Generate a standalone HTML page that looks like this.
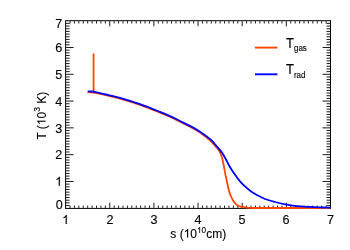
<!DOCTYPE html>
<html><head><meta charset="utf-8"><style>
html,body{margin:0;padding:0;background:#fff;}
svg{display:block}
text{font-family:"Liberation Sans",sans-serif;fill:#000;stroke:#000;stroke-width:0.12px}
.h1{fill:none;stroke:none}
.g1{fill:#000;stroke:#000}
</style></head><body>
<svg width="350" height="250" viewBox="0 0 350 250">
<rect width="350" height="250" fill="#fff"/>
<rect x="65.6" y="20.7" width="264.90" height="187.70" fill="none" stroke="#000" stroke-width="1"/>
<path d="M70.02 207.90 v-2.30 M70.02 21.20 v2.30 M74.43 207.90 v-2.30 M74.43 21.20 v2.30 M78.84 207.90 v-2.30 M78.84 21.20 v2.30 M83.26 207.90 v-2.30 M83.26 21.20 v2.30 M87.67 207.90 v-2.30 M87.67 21.20 v2.30 M92.09 207.90 v-2.30 M92.09 21.20 v2.30 M96.50 207.90 v-2.30 M96.50 21.20 v2.30 M100.92 207.90 v-2.30 M100.92 21.20 v2.30 M105.33 207.90 v-2.30 M105.33 21.20 v2.30 M109.75 207.90 v-5.10 M109.75 21.20 v5.10 M114.16 207.90 v-2.30 M114.16 21.20 v2.30 M118.58 207.90 v-2.30 M118.58 21.20 v2.30 M122.99 207.90 v-2.30 M122.99 21.20 v2.30 M127.41 207.90 v-2.30 M127.41 21.20 v2.30 M131.82 207.90 v-2.30 M131.82 21.20 v2.30 M136.24 207.90 v-2.30 M136.24 21.20 v2.30 M140.65 207.90 v-2.30 M140.65 21.20 v2.30 M145.07 207.90 v-2.30 M145.07 21.20 v2.30 M149.49 207.90 v-2.30 M149.49 21.20 v2.30 M153.90 207.90 v-5.10 M153.90 21.20 v5.10 M158.31 207.90 v-2.30 M158.31 21.20 v2.30 M162.73 207.90 v-2.30 M162.73 21.20 v2.30 M167.14 207.90 v-2.30 M167.14 21.20 v2.30 M171.56 207.90 v-2.30 M171.56 21.20 v2.30 M175.97 207.90 v-2.30 M175.97 21.20 v2.30 M180.39 207.90 v-2.30 M180.39 21.20 v2.30 M184.81 207.90 v-2.30 M184.81 21.20 v2.30 M189.22 207.90 v-2.30 M189.22 21.20 v2.30 M193.63 207.90 v-2.30 M193.63 21.20 v2.30 M198.05 207.90 v-5.10 M198.05 21.20 v5.10 M202.46 207.90 v-2.30 M202.46 21.20 v2.30 M206.88 207.90 v-2.30 M206.88 21.20 v2.30 M211.30 207.90 v-2.30 M211.30 21.20 v2.30 M215.71 207.90 v-2.30 M215.71 21.20 v2.30 M220.12 207.90 v-2.30 M220.12 21.20 v2.30 M224.54 207.90 v-2.30 M224.54 21.20 v2.30 M228.95 207.90 v-2.30 M228.95 21.20 v2.30 M233.37 207.90 v-2.30 M233.37 21.20 v2.30 M237.78 207.90 v-2.30 M237.78 21.20 v2.30 M242.20 207.90 v-5.10 M242.20 21.20 v5.10 M246.62 207.90 v-2.30 M246.62 21.20 v2.30 M251.03 207.90 v-2.30 M251.03 21.20 v2.30 M255.44 207.90 v-2.30 M255.44 21.20 v2.30 M259.86 207.90 v-2.30 M259.86 21.20 v2.30 M264.27 207.90 v-2.30 M264.27 21.20 v2.30 M268.69 207.90 v-2.30 M268.69 21.20 v2.30 M273.11 207.90 v-2.30 M273.11 21.20 v2.30 M277.52 207.90 v-2.30 M277.52 21.20 v2.30 M281.94 207.90 v-2.30 M281.94 21.20 v2.30 M286.35 207.90 v-5.10 M286.35 21.20 v5.10 M290.76 207.90 v-2.30 M290.76 21.20 v2.30 M295.18 207.90 v-2.30 M295.18 21.20 v2.30 M299.60 207.90 v-2.30 M299.60 21.20 v2.30 M304.01 207.90 v-2.30 M304.01 21.20 v2.30 M308.42 207.90 v-2.30 M308.42 21.20 v2.30 M312.84 207.90 v-2.30 M312.84 21.20 v2.30 M317.25 207.90 v-2.30 M317.25 21.20 v2.30 M321.67 207.90 v-2.30 M321.67 21.20 v2.30 M326.08 207.90 v-2.30 M326.08 21.20 v2.30 M66.10 205.57 h3.50 M330.00 205.57 h-3.50 M66.10 202.89 h3.50 M330.00 202.89 h-3.50 M66.10 200.21 h3.50 M330.00 200.21 h-3.50 M66.10 197.53 h3.50 M330.00 197.53 h-3.50 M66.10 194.85 h3.50 M330.00 194.85 h-3.50 M66.10 192.17 h3.50 M330.00 192.17 h-3.50 M66.10 189.50 h3.50 M330.00 189.50 h-3.50 M66.10 186.82 h3.50 M330.00 186.82 h-3.50 M66.10 184.14 h3.50 M330.00 184.14 h-3.50 M66.10 181.46 h7.50 M330.00 181.46 h-7.50 M66.10 178.78 h3.50 M330.00 178.78 h-3.50 M66.10 176.10 h3.50 M330.00 176.10 h-3.50 M66.10 173.42 h3.50 M330.00 173.42 h-3.50 M66.10 170.74 h3.50 M330.00 170.74 h-3.50 M66.10 168.06 h3.50 M330.00 168.06 h-3.50 M66.10 165.38 h3.50 M330.00 165.38 h-3.50 M66.10 162.70 h3.50 M330.00 162.70 h-3.50 M66.10 160.02 h3.50 M330.00 160.02 h-3.50 M66.10 157.34 h3.50 M330.00 157.34 h-3.50 M66.10 154.66 h7.50 M330.00 154.66 h-7.50 M66.10 151.99 h3.50 M330.00 151.99 h-3.50 M66.10 149.31 h3.50 M330.00 149.31 h-3.50 M66.10 146.63 h3.50 M330.00 146.63 h-3.50 M66.10 143.95 h3.50 M330.00 143.95 h-3.50 M66.10 141.27 h3.50 M330.00 141.27 h-3.50 M66.10 138.59 h3.50 M330.00 138.59 h-3.50 M66.10 135.91 h3.50 M330.00 135.91 h-3.50 M66.10 133.23 h3.50 M330.00 133.23 h-3.50 M66.10 130.55 h3.50 M330.00 130.55 h-3.50 M66.10 127.87 h7.50 M330.00 127.87 h-7.50 M66.10 125.19 h3.50 M330.00 125.19 h-3.50 M66.10 122.51 h3.50 M330.00 122.51 h-3.50 M66.10 119.83 h3.50 M330.00 119.83 h-3.50 M66.10 117.15 h3.50 M330.00 117.15 h-3.50 M66.10 114.47 h3.50 M330.00 114.47 h-3.50 M66.10 111.80 h3.50 M330.00 111.80 h-3.50 M66.10 109.12 h3.50 M330.00 109.12 h-3.50 M66.10 106.44 h3.50 M330.00 106.44 h-3.50 M66.10 103.76 h3.50 M330.00 103.76 h-3.50 M66.10 101.08 h7.50 M330.00 101.08 h-7.50 M66.10 98.40 h3.50 M330.00 98.40 h-3.50 M66.10 95.72 h3.50 M330.00 95.72 h-3.50 M66.10 93.04 h3.50 M330.00 93.04 h-3.50 M66.10 90.36 h3.50 M330.00 90.36 h-3.50 M66.10 87.68 h3.50 M330.00 87.68 h-3.50 M66.10 85.00 h3.50 M330.00 85.00 h-3.50 M66.10 82.32 h3.50 M330.00 82.32 h-3.50 M66.10 79.64 h3.50 M330.00 79.64 h-3.50 M66.10 76.96 h3.50 M330.00 76.96 h-3.50 M66.10 74.29 h7.50 M330.00 74.29 h-7.50 M66.10 71.61 h3.50 M330.00 71.61 h-3.50 M66.10 68.93 h3.50 M330.00 68.93 h-3.50 M66.10 66.25 h3.50 M330.00 66.25 h-3.50 M66.10 63.57 h3.50 M330.00 63.57 h-3.50 M66.10 60.89 h3.50 M330.00 60.89 h-3.50 M66.10 58.21 h3.50 M330.00 58.21 h-3.50 M66.10 55.53 h3.50 M330.00 55.53 h-3.50 M66.10 52.85 h3.50 M330.00 52.85 h-3.50 M66.10 50.17 h3.50 M330.00 50.17 h-3.50 M66.10 47.49 h7.50 M330.00 47.49 h-7.50 M66.10 44.81 h3.50 M330.00 44.81 h-3.50 M66.10 42.13 h3.50 M330.00 42.13 h-3.50 M66.10 39.45 h3.50 M330.00 39.45 h-3.50 M66.10 36.78 h3.50 M330.00 36.78 h-3.50 M66.10 34.10 h3.50 M330.00 34.10 h-3.50 M66.10 31.42 h3.50 M330.00 31.42 h-3.50 M66.10 28.74 h3.50 M330.00 28.74 h-3.50 M66.10 26.06 h3.50 M330.00 26.06 h-3.50 M66.10 23.38 h3.50 M330.00 23.38 h-3.50" stroke="#000" stroke-width="0.9" fill="none"/>
<g fill="none" stroke-width="1.8" stroke-linejoin="round">
<path d="M87.6 92.1 L93.55 92.7 V53.4" stroke="#ff4500"/>
<path d="M93.60 92.60 C94.67 92.82 97.93 93.47 100.00 93.90 C102.07 94.33 102.67 94.42 106.00 95.20 C109.33 95.98 114.33 96.98 120.00 98.60 C125.67 100.22 133.33 102.57 140.00 104.90 C146.67 107.23 155.00 110.62 160.00 112.60 C165.00 114.58 166.67 115.28 170.00 116.80 C173.33 118.32 176.67 120.05 180.00 121.70 C183.33 123.35 186.67 124.90 190.00 126.70 C193.33 128.50 197.42 130.85 200.00 132.50 C202.58 134.15 203.70 135.18 205.50 136.60 C207.30 138.02 208.97 139.20 210.80 141.00 C212.63 142.80 214.97 145.50 216.50 147.40 C218.03 149.30 219.02 150.47 220.00 152.40 C220.98 154.33 221.73 156.60 222.40 159.00 C223.07 161.40 223.48 164.17 224.00 166.80 C224.52 169.43 225.07 172.60 225.50 174.80 C225.93 177.00 226.15 177.88 226.60 180.00 C227.05 182.12 227.58 185.03 228.20 187.50 C228.82 189.97 229.43 192.53 230.30 194.80 C231.17 197.07 232.38 199.47 233.40 201.10 C234.42 202.73 235.17 203.68 236.40 204.60 C237.63 205.52 239.12 206.12 240.80 206.60 C242.48 207.08 244.72 207.28 246.45 207.50 C248.18 207.72 248.91 207.82 251.17 207.90 C253.43 207.98 246.78 207.98 260.00 208.00 C273.22 208.02 318.75 208.00 330.50 208.00" stroke="#ff4500"/>
<path d="M87.7 91.4 L92.5 91.5" stroke="#0000ff"/>
<path d="M92.50 91.50 C93.75 91.78 97.75 92.70 100.00 93.20 C102.25 93.70 102.67 93.72 106.00 94.50 C109.33 95.28 114.33 96.28 120.00 97.90 C125.67 99.52 133.33 101.87 140.00 104.20 C146.67 106.53 155.00 109.92 160.00 111.90 C165.00 113.88 166.67 114.58 170.00 116.10 C173.33 117.62 176.67 119.37 180.00 121.00 C183.33 122.63 186.67 124.12 190.00 125.90 C193.33 127.68 196.53 129.42 200.00 131.70 C203.47 133.98 208.05 137.22 210.80 139.60 C213.55 141.98 214.82 144.08 216.50 146.00 C218.18 147.92 219.45 149.14 220.90 151.13 C222.35 153.12 223.77 155.42 225.20 157.95 C226.63 160.47 228.07 163.76 229.50 166.28 C230.93 168.80 232.12 170.63 233.80 173.05 C235.48 175.47 237.68 178.53 239.60 180.80 C241.52 183.08 243.38 184.93 245.30 186.70 C247.22 188.47 249.17 190.02 251.10 191.40 C253.03 192.78 254.58 193.73 256.90 195.00 C259.22 196.27 261.98 197.83 265.00 199.00 C268.02 200.17 271.67 201.12 275.00 202.00 C278.33 202.88 281.67 203.65 285.00 204.30 C288.33 204.95 290.83 205.47 295.00 205.90 C299.17 206.33 305.50 206.65 310.00 206.90 C314.50 207.15 318.58 207.28 322.00 207.40 C325.42 207.52 329.08 207.57 330.50 207.60" stroke="#0000ff"/>
</g>
<path d="M255 47.6 H277.4" stroke="#ff4500" stroke-width="1.9"/>
<path d="M255 74.3 H277.4" stroke="#0000ff" stroke-width="1.9"/>
<g id="txt" style="filter:grayscale(1)">
<g font-size="12.6" text-anchor="middle">
<text x="65.6" y="224"><tspan class="h1">1</tspan></text><path class="g1" stroke-width="19.5" transform="translate(62.09 224.00) scale(0.006152 -0.006152)" d="M763 0H583V1147Q518 1085 412.5 1023Q307 961 223 930V1104Q374 1175 487 1276Q600 1377 647 1472H763Z"/><text x="110" y="224">2</text><text x="154" y="224">3</text><text x="198" y="224">4</text><text x="242" y="224">5</text><text x="286" y="224">6</text><text x="330.5" y="224">7</text>
</g>
<g font-size="12.6" text-anchor="end">
<text x="62.2" y="28.2">7</text><text x="62.2" y="52.3">6</text><text x="62.2" y="79.0">5</text><text x="62.2" y="105.8">4</text><text x="62.2" y="132.5">3</text><text x="62.2" y="159.1">2</text><text x="62.2" y="185.8"><tspan class="h1">1</tspan></text><path class="g1" stroke-width="19.5" transform="translate(55.18 185.80) scale(0.006152 -0.006152)" d="M763 0H583V1147Q518 1085 412.5 1023Q307 961 223 930V1104Q374 1175 487 1276Q600 1377 647 1472H763Z"/><text x="62.7" y="208.7">0</text>
</g>
<text x="170.3" y="237.6" font-size="12">s (<tspan class="h1">1</tspan>0<tspan font-size="8.2" dy="-4.6"><tspan class="h1">1</tspan>0</tspan><tspan dy="4.6">cm)</tspan></text><path class="g1" stroke-width="20.5" transform="translate(183.64 237.60) scale(0.005859 -0.005859)" d="M763 0H583V1147Q518 1085 412.5 1023Q307 961 223 930V1104Q374 1175 487 1276Q600 1377 647 1472H763Z"/><path class="g1" stroke-width="30.0" transform="translate(197.02 233.00) scale(0.004004 -0.004004)" d="M763 0H583V1147Q518 1085 412.5 1023Q307 961 223 930V1104Q374 1175 487 1276Q600 1377 647 1472H763Z"/>
<g transform="translate(45.5,139.6) rotate(-90)"><text font-size="12">T (<tspan class="h1">1</tspan>0<tspan font-size="8.5" dy="-5.8">3</tspan><tspan dy="5.8"> K)</tspan></text><path class="g1" stroke-width="20.5" transform="translate(14.45 0.00) scale(0.005859 -0.005859)" d="M763 0H583V1147Q518 1085 412.5 1023Q307 961 223 930V1104Q374 1175 487 1276Q600 1377 647 1472H763Z"/></g>
<text transform="translate(286,47.6) scale(1,1.1)" font-size="13">T<tspan font-size="8" dy="3.1">gas</tspan></text>
<text transform="translate(286,74.3) scale(1,1.1)" font-size="13">T<tspan font-size="8" dy="3.1">rad</tspan></text>
</g>
</svg>
</body></html>
